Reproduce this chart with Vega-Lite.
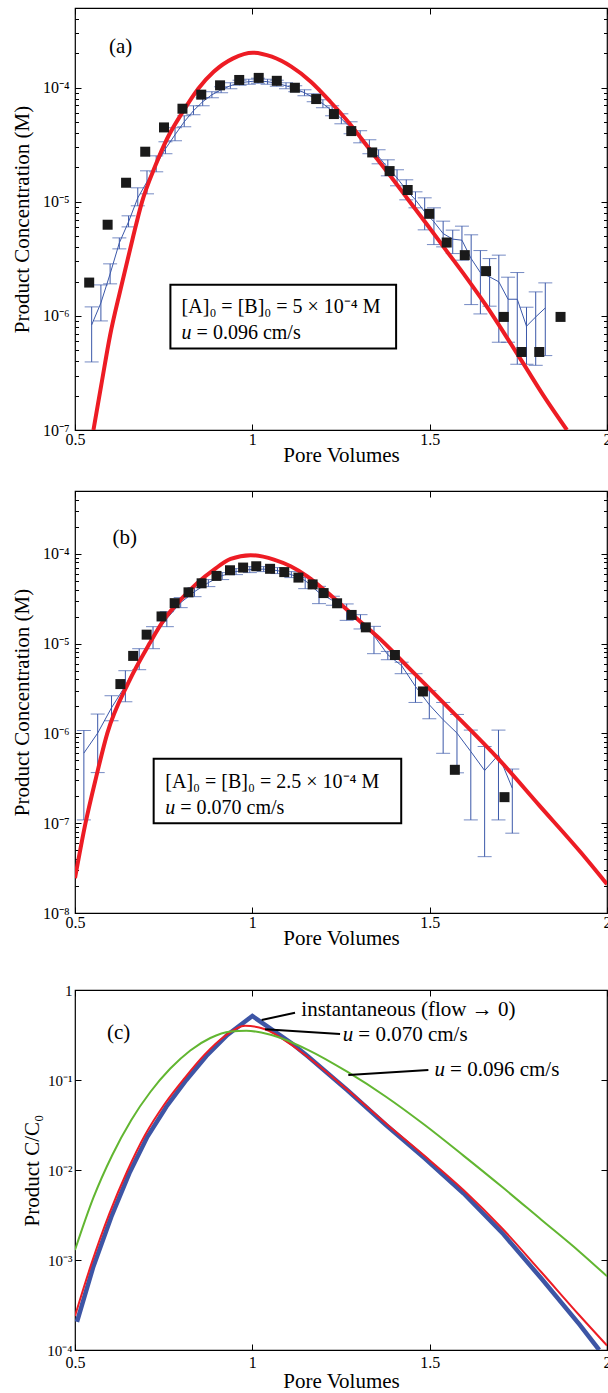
{
  "$schema": "https://vega.github.io/schema/vega-lite/v6.json",
  "padding": {"left": 10, "top": 6, "right": 0, "bottom": 0},
  "config": {
    "font": "Liberation Serif",
    "view": {"stroke": "#000", "strokeWidth": 1.2},
    "axis": {"grid": false, "domain": false, "tickColor": "#000", "labelColor": "#000", "titleColor": "#000", "labelFont": "Liberation Serif", "titleFont": "Liberation Serif", "titleFontWeight": "normal", "labelFontSize": 16, "titleFontSize": 21, "tickWidth": 1, "labelFlush": false},
    "text": {"font": "Liberation Serif", "color": "#000"}
  },
  "datasets": {
    "a_model": [
      {"pv":0.552,"c":1.0e-7},{"pv":0.574,"c":2.47e-7},{"pv":0.599,"c":6.77e-7},{"pv":0.629,"c":1.74e-6},{"pv":0.662,"c":4.68e-6},{"pv":0.689,"c":1.0e-5},{"pv":0.727,"c":2.09e-5},{"pv":0.760,"c":3.59e-5},{"pv":0.804,"c":6.16e-5},{"pv":0.848,"c":9.86e-5},{"pv":0.891,"c":1.38e-4},{"pv":0.946,"c":1.81e-4},{"pv":1.001,"c":2.03e-4},{"pv":1.055,"c":1.87e-4},{"pv":1.110,"c":1.53e-4},{"pv":1.165,"c":1.13e-4},{"pv":1.220,"c":7.54e-5},{"pv":1.274,"c":4.86e-5},{"pv":1.329,"c":2.93e-5},{"pv":1.384,"c":1.77e-5},{"pv":1.438,"c":1.06e-5},{"pv":1.493,"c":6.3e-6},{"pv":1.548,"c":3.7e-6},{"pv":1.602,"c":2.2e-6},{"pv":1.657,"c":1.26e-6},{"pv":1.712,"c":6.9e-7},{"pv":1.767,"c":3.7e-7},{"pv":1.821,"c":2.0e-7},{"pv":1.887,"c":1.0e-7}
    ],
    "a_sim": [
      {"pv":0.547,"m":8.34e-7,"hi":1.20e-6,"lo":3.95e-7},
      {"pv":0.573,"m":1.30e-6,"hi":1.87e-6,"lo":9.04e-7},
      {"pv":0.599,"m":2.335e-6,"hi":2.86e-6,"lo":1.91e-6},
      {"pv":0.625,"m":4.37e-6,"hi":4.83e-6,"lo":3.87e-6},
      {"pv":0.651,"m":6.68e-6,"hi":7.54e-6,"lo":6.03e-6},
      {"pv":0.677,"m":1.084e-5,"hi":1.327e-5,"lo":9.23e-6},
      {"pv":0.703,"m":1.498e-5,"hi":1.87e-5,"lo":1.175e-5},
      {"pv":0.729,"m":2.112e-5,"hi":2.53e-5,"lo":1.833e-5},
      {"pv":0.755,"m":2.916e-5,"hi":3.36e-5,"lo":2.64e-5},
      {"pv":0.782,"m":3.87e-5,"hi":4.46e-5,"lo":3.43e-5},
      {"pv":0.808,"m":5.03e-5,"hi":5.68e-5,"lo":4.55e-5},
      {"pv":0.834,"m":6.29e-5,"hi":6.95e-5,"lo":5.80e-5},
      {"pv":0.860,"m":7.54e-5,"hi":8.17e-5,"lo":6.95e-5},
      {"pv":0.886,"m":8.68e-5,"hi":9.23e-5,"lo":8.17e-5},
      {"pv":0.912,"m":9.60e-5,"hi":1.020e-4,"lo":9.04e-5},
      {"pv":0.938,"m":1.041e-4,"hi":1.106e-4,"lo":9.80e-5},
      {"pv":0.964,"m":1.106e-4,"hi":1.164e-4,"lo":1.052e-4},
      {"pv":0.990,"m":1.129e-4,"hi":1.188e-4,"lo":1.073e-4},
      {"pv":1.016,"m":1.152e-4,"hi":1.212e-4,"lo":1.095e-4},
      {"pv":1.043,"m":1.129e-4,"hi":1.188e-4,"lo":1.073e-4},
      {"pv":1.069,"m":1.095e-4,"hi":1.164e-4,"lo":1.031e-4},
      {"pv":1.095,"m":1.041e-4,"hi":1.106e-4,"lo":9.80e-5},
      {"pv":1.121,"m":9.80e-5,"hi":1.041e-4,"lo":9.23e-5},
      {"pv":1.147,"m":9.04e-5,"hi":9.60e-5,"lo":8.51e-5},
      {"pv":1.173,"m":8.17e-5,"hi":8.86e-5,"lo":7.54e-5},
      {"pv":1.199,"m":7.24e-5,"hi":7.85e-5,"lo":6.68e-5},
      {"pv":1.225,"m":6.29e-5,"hi":6.95e-5,"lo":5.68e-5},
      {"pv":1.251,"m":5.35e-5,"hi":5.91e-5,"lo":4.83e-5},
      {"pv":1.277,"m":4.46e-5,"hi":5.03e-5,"lo":3.95e-5},
      {"pv":1.304,"m":3.72e-5,"hi":4.20e-5,"lo":3.29e-5},
      {"pv":1.330,"m":3.04e-5,"hi":3.50e-5,"lo":2.64e-5},
      {"pv":1.356,"m":2.48e-5,"hi":2.86e-5,"lo":2.154e-5},
      {"pv":1.382,"m":1.99e-5,"hi":2.335e-5,"lo":1.69e-5},
      {"pv":1.408,"m":1.62e-5,"hi":1.91e-5,"lo":1.382e-5},
      {"pv":1.434,"m":1.274e-5,"hi":1.56e-5,"lo":1.041e-5},
      {"pv":1.460,"m":1.041e-5,"hi":1.224e-5,"lo":8.86e-6},
      {"pv":1.486,"m":8.17e-6,"hi":1.084e-5,"lo":5.68e-6},
      {"pv":1.512,"m":6.68e-6,"hi":8.86e-6,"lo":4.22e-6},
      {"pv":1.538,"m":5.27e-6,"hi":6.77e-6,"lo":4.03e-6},
      {"pv":1.565,"m":4.71e-6,"hi":5.65e-6,"lo":3.52e-6},
      {"pv":1.591,"m":4.61e-6,"hi":6.12e-6,"lo":3.08e-6},
      {"pv":1.617,"m":3.18e-6,"hi":5.14e-6,"lo":1.257e-6},
      {"pv":1.643,"m":2.40e-6,"hi":3.74e-6,"lo":1.041e-6},
      {"pv":1.669,"m":2.20e-6,"hi":3.18e-6,"lo":1.217e-6},
      {"pv":1.695,"m":1.99e-6,"hi":3.41e-6,"lo":5.88e-7},
      {"pv":1.721,"m":1.40e-6,"hi":2.185e-6,"lo":5.88e-7},
      {"pv":1.747,"m":1.40e-6,"hi":2.40e-6,"lo":3.77e-7},
      {"pv":1.773,"m":8.12e-7,"hi":1.192e-6,"lo":3.77e-7},
      {"pv":1.799,"m":9.80e-7,"hi":1.624e-6,"lo":3.69e-7},
      {"pv":1.826,"m":1.175e-6,"hi":1.948e-6,"lo":4.49e-7}
    ],
    "a_obs": [
      {"pv":0.540,"c":1.96e-6},{"pv":0.592,"c":6.3e-6},{"pv":0.644,"c":1.47e-5},{"pv":0.698,"c":2.75e-5},{"pv":0.751,"c":4.49e-5},{"pv":0.803,"c":6.55e-5},{"pv":0.856,"c":8.7e-5},{"pv":0.909,"c":1.05e-4},{"pv":0.963,"c":1.17e-4},{"pv":1.018,"c":1.22e-4},{"pv":1.069,"c":1.15e-4},{"pv":1.120,"c":1.0e-4},{"pv":1.180,"c":7.96e-5},{"pv":1.230,"c":5.88e-5},{"pv":1.279,"c":4.17e-5},{"pv":1.338,"c":2.71e-5},{"pv":1.387,"c":1.86e-5},{"pv":1.438,"c":1.27e-5},{"pv":1.499,"c":7.85e-6},{"pv":1.548,"c":4.40e-6},{"pv":1.599,"c":3.41e-6},{"pv":1.659,"c":2.47e-6},{"pv":1.709,"c":9.8e-7},{"pv":1.759,"c":4.83e-7},{"pv":1.809,"c":4.83e-7},{"pv":1.869,"c":9.8e-7}
    ],
    "a_box": [{"pv":0.769,"pv2":1.4054,"c":1.88e-6,"c2":5.17e-7}],
    "a_tag": [{"pv":0.596,"c":2.29e-4,"t":"(a)"}],
    "a_note": [{"pv":0.8006,"c":1.2e-6,"t":"[A]₀ = [B]₀ = 5 × 10⁻⁴ M"}],
    "a_rest": [{"pv":0.8288,"c":7.1e-7,"t":"= 0.096 cm/s"}],
    "a_u": [{"pv":0.8288,"c":7.1e-7,"t":"u"}],
    "b_model": [
      {"pv":0.500,"c":2.44e-8},{"pv":0.5296,"c":1.0e-7},{"pv":0.560,"c":3.3e-7},{"pv":0.591,"c":1.0e-6},{"pv":0.650,"c":3.63e-6},{"pv":0.710,"c":1.0e-5},{"pv":0.751,"c":1.85e-5},{"pv":0.798,"c":3.08e-5},{"pv":0.845,"c":4.74e-5},{"pv":0.892,"c":6.67e-5},{"pv":0.939,"c":8.77e-5},{"pv":0.995,"c":9.65e-5},{"pv":1.061,"c":8.62e-5},{"pv":1.108,"c":7.26e-5},{"pv":1.155,"c":5.61e-5},{"pv":1.202,"c":3.99e-5},{"pv":1.240,"c":2.955e-5},{"pv":1.300,"c":1.82e-5},{"pv":1.362,"c":1.107e-5},{"pv":1.456,"c":4.68e-6},{"pv":1.577,"c":1.55e-6},{"pv":1.693,"c":5.25e-7},{"pv":1.809,"c":1.58e-7},{"pv":1.927,"c":4.68e-8},{"pv":2.000,"c":2.09e-8}
    ],
    "b_sim": [
      {"pv":0.525,"m":6.03e-7,"hi":1.077e-6,"lo":1.088e-7},
      {"pv":0.564,"m":1.008e-6,"hi":1.642e-6,"lo":3.66e-7},
      {"pv":0.603,"m":1.93e-6,"hi":2.626e-6,"lo":1.382e-6},
      {"pv":0.642,"m":3.39e-6,"hi":4.99e-6,"lo":2.25e-6},
      {"pv":0.681,"m":6.61e-6,"hi":8.77e-6,"lo":5.12e-6},
      {"pv":0.720,"m":1.164e-5,"hi":1.543e-5,"lo":8.77e-6},
      {"pv":0.759,"m":1.895e-5,"hi":2.268e-5,"lo":1.543e-5},
      {"pv":0.798,"m":2.858e-5,"hi":3.25e-5,"lo":2.513e-5},
      {"pv":0.837,"m":3.79e-5,"hi":4.20e-5,"lo":3.33e-5},
      {"pv":0.876,"m":4.77e-5,"hi":5.16e-5,"lo":4.31e-5},
      {"pv":0.915,"m":5.71e-5,"hi":6.17e-5,"lo":5.16e-5},
      {"pv":0.954,"m":6.33e-5,"hi":6.84e-5,"lo":5.86e-5},
      {"pv":0.993,"m":6.67e-5,"hi":7.20e-5,"lo":6.17e-5},
      {"pv":1.032,"m":6.75e-5,"hi":7.20e-5,"lo":6.33e-5},
      {"pv":1.071,"m":6.50e-5,"hi":7.02e-5,"lo":6.02e-5},
      {"pv":1.110,"m":5.86e-5,"hi":6.33e-5,"lo":5.43e-5},
      {"pv":1.149,"m":5.03e-5,"hi":5.43e-5,"lo":4.09e-5},
      {"pv":1.188,"m":3.69e-5,"hi":4.34e-5,"lo":2.784e-5},
      {"pv":1.227,"m":3.01e-5,"hi":3.36e-5,"lo":2.666e-5},
      {"pv":1.266,"m":2.327e-5,"hi":2.764e-5,"lo":1.814e-5},
      {"pv":1.305,"m":1.754e-5,"hi":2.1e-5,"lo":1.455e-5},
      {"pv":1.343,"m":1.225e-5,"hi":1.555e-5,"lo":7.72e-6},
      {"pv":1.382,"m":7.52e-6,"hi":8.18e-6,"lo":6.61e-6},
      {"pv":1.421,"m":5.67e-6,"hi":6.20e-6,"lo":4.62e-6},
      {"pv":1.460,"m":3.33e-6,"hi":4.62e-6,"lo":2.21e-6},
      {"pv":1.499,"m":2.084e-6,"hi":2.985e-6,"lo":1.455e-6},
      {"pv":1.538,"m":1.418e-6,"hi":2.21e-6,"lo":6.0e-7},
      {"pv":1.577,"m":1.008e-6,"hi":1.625e-6,"lo":3.64e-7},
      {"pv":1.616,"m":6.28e-7,"hi":1.088e-6,"lo":1.088e-7},
      {"pv":1.655,"m":3.86e-7,"hi":7.14e-7,"lo":4.24e-8},
      {"pv":1.694,"m":5.77e-7,"hi":1.088e-6,"lo":1.088e-7},
      {"pv":1.733,"m":2.456e-7,"hi":4.01e-7,"lo":7.74e-8}
    ],
    "b_obs": [
      {"pv":0.628,"c":3.54e-6},{"pv":0.664,"c":7.29e-6},{"pv":0.702,"c":1.257e-5},{"pv":0.744,"c":2.005e-5},{"pv":0.781,"c":2.82e-5},{"pv":0.820,"c":3.72e-5},{"pv":0.857,"c":4.69e-5},{"pv":0.899,"c":5.67e-5},{"pv":0.937,"c":6.55e-5},{"pv":0.974,"c":7.02e-5},{"pv":1.011,"c":7.26e-5},{"pv":1.050,"c":6.80e-5},{"pv":1.090,"c":6.25e-5},{"pv":1.130,"c":5.43e-5},{"pv":1.170,"c":4.56e-5},{"pv":1.201,"c":3.65e-5},{"pv":1.239,"c":2.81e-5},{"pv":1.280,"c":2.084e-5},{"pv":1.320,"c":1.516e-5},{"pv":1.402,"c":7.46e-6},{"pv":1.481,"c":2.93e-6},{"pv":1.571,"c":3.93e-7},{"pv":1.711,"c":1.95e-7}
    ],
    "b_box": [{"pv":0.7218,"pv2":1.4198,"c":5.21e-7,"c2":1.0e-7}],
    "b_tag": [{"pv":0.606,"c":1.504e-4,"t":"(b)"}],
    "b_note": [{"pv":0.7546,"c":2.91e-7,"t":"[A]₀ = [B]₀ = 2.5 × 10⁻⁴ M"}],
    "b_rest": [{"pv":0.7828,"c":1.49e-7,"t":"= 0.070 cm/s"}],
    "b_u": [{"pv":0.7828,"c":1.49e-7,"t":"u"}],
    "c_inst": [
      {"pv":0.5056,"r":2.06e-4},{"pv":0.5516,"r":8.43e-4},{"pv":0.6024,"r":3.03e-3},{"pv":0.6531,"r":9.19e-3},{"pv":0.7039,"r":2.34e-2},{"pv":0.7575,"r":5.05e-2},{"pv":0.8139,"r":0.1},{"pv":0.8703,"r":0.185},{"pv":0.9295,"r":0.316},{"pv":1.0,"r":0.514},{"pv":1.1108,"r":0.256},{"pv":1.158,"r":0.1816},{"pv":1.2673,"r":0.0774},{"pv":1.3768,"r":0.0316},{"pv":1.4862,"r":0.01349},{"pv":1.5953,"r":5.51e-3},{"pv":1.7047,"r":2.0e-3},{"pv":1.8139,"r":6.3e-4},{"pv":1.9233,"r":1.9e-4},{"pv":1.978,"r":1.0e-4}
    ],
    "c_u070": [
      {"pv":0.5,"r":2.39e-4},{"pv":0.546,"r":9.0e-4},{"pv":0.5967,"r":3.25e-3},{"pv":0.6475,"r":9.75e-3},{"pv":0.6983,"r":2.48e-2},{"pv":0.7518,"r":5.34e-2},{"pv":0.8082,"r":0.104},{"pv":0.8647,"r":0.19},{"pv":0.921,"r":0.304},{"pv":0.9794,"r":0.401},{"pv":1.0338,"r":0.369},{"pv":1.1108,"r":0.245},{"pv":1.158,"r":0.178},{"pv":1.2673,"r":0.0784},{"pv":1.3768,"r":0.0329},{"pv":1.4862,"r":0.0143},{"pv":1.5953,"r":6.0e-3},{"pv":1.7047,"r":2.24e-3},{"pv":1.8139,"r":7.4e-4},{"pv":1.9233,"r":2.4e-4},{"pv":2.0,"r":1.12e-4}
    ],
    "c_u096": [
      {"pv":0.5,"r":1.29e-3},{"pv":0.5516,"r":4.89e-3},{"pv":0.6052,"r":1.47e-2},{"pv":0.6588,"r":3.6e-2},{"pv":0.7124,"r":7.36e-2},{"pv":0.7687,"r":0.134},{"pv":0.8251,"r":0.213},{"pv":0.8816,"r":0.293},{"pv":0.938,"r":0.346},{"pv":0.9831,"r":0.353},{"pv":1.0488,"r":0.32},{"pv":1.158,"r":0.215},{"pv":1.2673,"r":0.1236},{"pv":1.3768,"r":0.0652},{"pv":1.4862,"r":0.0316},{"pv":1.5953,"r":0.01445},{"pv":1.7047,"r":6.46e-3},{"pv":1.8139,"r":2.82e-3},{"pv":1.9233,"r":1.23e-3},{"pv":2.0,"r":6.6e-4}
    ],
    "c_lead": [
      {"pv":1.0262,"r":0.464,"pv2":1.1204,"r2":0.559},
      {"pv":1.0358,"r":0.366,"pv2":1.2473,"r2":0.3245},
      {"pv":1.2707,"r":0.1136,"pv2":1.4963,"r2":0.129}
    ],
    "c_tag": [{"pv":0.59,"r":0.33,"t":"(c)"},{"pv":1.1382,"r":0.5995,"t":"instantaneous (flow → 0)"}],
    "c_rest": [{"pv":1.2848,"r":0.316,"t":"= 0.070 cm/s"},{"pv":1.5434,"r":0.129,"t":"= 0.096 cm/s"}],
    "c_u": [{"pv":1.2848,"r":0.316,"t":"u"},{"pv":1.5434,"r":0.129,"t":"u"}]
  },
  "vconcat": [
    {
      "spacing": 23,
      "vconcat": [
        {
          "width": 532, "height": 422,
          "resolve": {"axis": {"x": "independent", "y": "independent"}},
          "layer": [
            {"data": {"name": "a_sim"}, "mark": {"type": "rule", "color": "#3b58a9", "strokeWidth": 1, "clip": true},
             "encoding": {
               "x": {"field": "pv", "type": "quantitative", "scale": {"domain": [0.5, 2], "nice": false, "zero": false},
                     "axis": {"orient": "top", "values": [0.5, 1, 1.5, 2], "labels": false, "tickSize": -6, "title": null}},
               "y": {"field": "lo", "type": "quantitative", "scale": {"type": "log", "domain": [1e-7, 5e-4], "nice": false},
                     "axis": {"orient": "left", "values": [2e-7,3e-7,4e-7,5e-7,6e-7,7e-7,8e-7,9e-7,2e-6,3e-6,4e-6,5e-6,6e-6,7e-6,8e-6,9e-6,2e-5,3e-5,4e-5,5e-5,6e-5,7e-5,8e-5,9e-5,2e-4,3e-4,4e-4], "labels": false, "tickSize": -3.5, "title": null}},
               "y2": {"field": "hi"}}},
            {"data": {"name": "a_sim"}, "mark": {"type": "tick", "orient": "horizontal", "size": 14, "thickness": 1, "color": "#3b58a9", "clip": true},
             "encoding": {
               "x": {"field": "pv", "type": "quantitative", "axis": null},
               "y": {"field": "hi", "type": "quantitative", "axis": {"orient": "right", "values": [1e-7, 1e-6, 1e-5, 1e-4], "labels": false, "tickSize": -6, "title": null}}}},
            {"data": {"name": "a_sim"}, "mark": {"type": "tick", "orient": "horizontal", "size": 14, "thickness": 1, "color": "#3b58a9", "clip": true},
             "encoding": {
               "x": {"field": "pv", "type": "quantitative", "axis": null},
               "y": {"field": "lo", "type": "quantitative", "axis": {"orient": "right", "values": [2e-7,3e-7,4e-7,5e-7,6e-7,7e-7,8e-7,9e-7,2e-6,3e-6,4e-6,5e-6,6e-6,7e-6,8e-6,9e-6,2e-5,3e-5,4e-5,5e-5,6e-5,7e-5,8e-5,9e-5,2e-4,3e-4,4e-4], "labels": false, "tickSize": -3.5, "title": null}}}},
            {"data": {"name": "a_sim"}, "mark": {"type": "line", "color": "#3b58a9", "strokeWidth": 1, "clip": true},
             "encoding": {
               "x": {"field": "pv", "type": "quantitative", "axis": null},
               "y": {"field": "m", "type": "quantitative", "axis": null}}},
            {"data": {"name": "a_model"}, "mark": {"type": "line", "color": "#ed1c24", "strokeWidth": 4, "interpolate": "monotone", "clip": true},
             "encoding": {
               "x": {"field": "pv", "type": "quantitative", "axis": {"orient": "bottom", "values": [0.5, 1, 1.5, 2], "format": "~g", "tickSize": -6, "labelPadding": 7, "title": "Pore Volumes", "titlePadding": -3}},
               "y": {"field": "c", "type": "quantitative", "axis": {"orient": "left", "values": [1e-7, 1e-6, 1e-5, 1e-4], "labelExpr": "['10⁻⁸','10⁻⁷','10⁻⁶','10⁻⁵','10⁻⁴','10⁻³'][round(log(datum.value)/LN10)+8]", "tickSize": -6, "labelPadding": 12, "title": "Product Concentration (M)", "titlePadding": 10}}}},
            {"data": {"name": "a_obs"}, "mark": {"type": "square", "size": 100, "color": "#1a1a1a", "opacity": 1},
             "encoding": {
               "x": {"field": "pv", "type": "quantitative", "axis": null},
               "y": {"field": "c", "type": "quantitative", "axis": null}}},
            {"data": {"name": "a_box"}, "mark": {"type": "rect", "fill": "#fff", "stroke": "#000", "strokeWidth": 2},
             "encoding": {
               "x": {"field": "pv", "type": "quantitative", "axis": null}, "x2": {"field": "pv2"},
               "y": {"field": "c", "type": "quantitative", "axis": null}, "y2": {"field": "c2"}}},
            {"data": {"name": "a_tag"}, "mark": {"type": "text", "align": "left", "baseline": "middle", "fontSize": 21},
             "encoding": {
               "x": {"field": "pv", "type": "quantitative", "axis": null},
               "y": {"field": "c", "type": "quantitative", "axis": null},
               "text": {"field": "t"}}},
            {"data": {"name": "a_note"}, "mark": {"type": "text", "align": "left", "baseline": "middle", "fontSize": 20},
             "encoding": {
               "x": {"field": "pv", "type": "quantitative", "axis": null},
               "y": {"field": "c", "type": "quantitative", "axis": null},
               "text": {"field": "t"}}},
            {"data": {"name": "a_rest"}, "mark": {"type": "text", "align": "left", "baseline": "middle", "fontSize": 20, "dx": 5},
             "encoding": {
               "x": {"field": "pv", "type": "quantitative", "axis": null},
               "y": {"field": "c", "type": "quantitative", "axis": null},
               "text": {"field": "t"}}},
            {"data": {"name": "a_u"}, "mark": {"type": "text", "align": "right", "baseline": "middle", "fontSize": 20, "fontStyle": "italic"},
             "encoding": {
               "x": {"field": "pv", "type": "quantitative", "axis": null},
               "y": {"field": "c", "type": "quantitative", "axis": null},
               "text": {"field": "t"}}}
          ]
        },
        {
          "width": 532, "height": 422,
          "resolve": {"axis": {"x": "independent", "y": "independent"}},
          "layer": [
            {"data": {"name": "b_sim"}, "mark": {"type": "rule", "color": "#3b58a9", "strokeWidth": 1, "clip": true},
             "encoding": {
               "x": {"field": "pv", "type": "quantitative", "scale": {"domain": [0.5, 2], "nice": false, "zero": false},
                     "axis": {"orient": "top", "values": [0.5, 1, 1.5, 2], "labels": false, "tickSize": -6, "title": null}},
               "y": {"field": "lo", "type": "quantitative", "scale": {"type": "log", "domain": [1e-8, 5e-4], "nice": false},
                     "axis": {"orient": "left", "values": [2e-8,3e-8,4e-8,5e-8,6e-8,7e-8,8e-8,9e-8,2e-7,3e-7,4e-7,5e-7,6e-7,7e-7,8e-7,9e-7,2e-6,3e-6,4e-6,5e-6,6e-6,7e-6,8e-6,9e-6,2e-5,3e-5,4e-5,5e-5,6e-5,7e-5,8e-5,9e-5,2e-4,3e-4,4e-4], "labels": false, "tickSize": -3.5, "title": null}},
               "y2": {"field": "hi"}}},
            {"data": {"name": "b_sim"}, "mark": {"type": "tick", "orient": "horizontal", "size": 14, "thickness": 1, "color": "#3b58a9", "clip": true},
             "encoding": {
               "x": {"field": "pv", "type": "quantitative", "axis": null},
               "y": {"field": "hi", "type": "quantitative", "axis": {"orient": "right", "values": [1e-8, 1e-7, 1e-6, 1e-5, 1e-4], "labels": false, "tickSize": -6, "title": null}}}},
            {"data": {"name": "b_sim"}, "mark": {"type": "tick", "orient": "horizontal", "size": 14, "thickness": 1, "color": "#3b58a9", "clip": true},
             "encoding": {
               "x": {"field": "pv", "type": "quantitative", "axis": null},
               "y": {"field": "lo", "type": "quantitative", "axis": {"orient": "right", "values": [2e-8,3e-8,4e-8,5e-8,6e-8,7e-8,8e-8,9e-8,2e-7,3e-7,4e-7,5e-7,6e-7,7e-7,8e-7,9e-7,2e-6,3e-6,4e-6,5e-6,6e-6,7e-6,8e-6,9e-6,2e-5,3e-5,4e-5,5e-5,6e-5,7e-5,8e-5,9e-5,2e-4,3e-4,4e-4], "labels": false, "tickSize": -3.5, "title": null}}}},
            {"data": {"name": "b_sim"}, "mark": {"type": "line", "color": "#3b58a9", "strokeWidth": 1, "clip": true},
             "encoding": {
               "x": {"field": "pv", "type": "quantitative", "axis": null},
               "y": {"field": "m", "type": "quantitative", "axis": null}}},
            {"data": {"name": "b_model"}, "mark": {"type": "line", "color": "#ed1c24", "strokeWidth": 4, "interpolate": "monotone", "clip": true},
             "encoding": {
               "x": {"field": "pv", "type": "quantitative", "axis": {"orient": "bottom", "values": [0.5, 1, 1.5, 2], "format": "~g", "tickSize": -6, "labelPadding": 7, "title": "Pore Volumes", "titlePadding": -3}},
               "y": {"field": "c", "type": "quantitative", "axis": {"orient": "left", "values": [1e-8, 1e-7, 1e-6, 1e-5, 1e-4], "labelExpr": "['10⁻⁸','10⁻⁷','10⁻⁶','10⁻⁵','10⁻⁴','10⁻³'][round(log(datum.value)/LN10)+8]", "tickSize": -6, "labelPadding": 12, "title": "Product Concentration (M)", "titlePadding": 10}}}},
            {"data": {"name": "b_obs"}, "mark": {"type": "square", "size": 100, "color": "#1a1a1a", "opacity": 1},
             "encoding": {
               "x": {"field": "pv", "type": "quantitative", "axis": null},
               "y": {"field": "c", "type": "quantitative", "axis": null}}},
            {"data": {"name": "b_box"}, "mark": {"type": "rect", "fill": "#fff", "stroke": "#000", "strokeWidth": 2},
             "encoding": {
               "x": {"field": "pv", "type": "quantitative", "axis": null}, "x2": {"field": "pv2"},
               "y": {"field": "c", "type": "quantitative", "axis": null}, "y2": {"field": "c2"}}},
            {"data": {"name": "b_tag"}, "mark": {"type": "text", "align": "left", "baseline": "middle", "fontSize": 21},
             "encoding": {
               "x": {"field": "pv", "type": "quantitative", "axis": null},
               "y": {"field": "c", "type": "quantitative", "axis": null},
               "text": {"field": "t"}}},
            {"data": {"name": "b_note"}, "mark": {"type": "text", "align": "left", "baseline": "middle", "fontSize": 20},
             "encoding": {
               "x": {"field": "pv", "type": "quantitative", "axis": null},
               "y": {"field": "c", "type": "quantitative", "axis": null},
               "text": {"field": "t"}}},
            {"data": {"name": "b_rest"}, "mark": {"type": "text", "align": "left", "baseline": "middle", "fontSize": 20, "dx": 5},
             "encoding": {
               "x": {"field": "pv", "type": "quantitative", "axis": null},
               "y": {"field": "c", "type": "quantitative", "axis": null},
               "text": {"field": "t"}}},
            {"data": {"name": "b_u"}, "mark": {"type": "text", "align": "right", "baseline": "middle", "fontSize": 20, "fontStyle": "italic"},
             "encoding": {
               "x": {"field": "pv", "type": "quantitative", "axis": null},
               "y": {"field": "c", "type": "quantitative", "axis": null},
               "text": {"field": "t"}}}
          ]
        }
      ]
    },
    {
      "width": 532, "height": 360,
      "resolve": {"axis": {"x": "independent", "y": "independent"}},
      "layer": [
        {"data": {"name": "c_inst"}, "mark": {"type": "line", "color": "#3d55a5", "strokeWidth": 4.5, "clip": true},
         "encoding": {
           "x": {"field": "pv", "type": "quantitative", "scale": {"domain": [0.5, 2], "nice": false, "zero": false},
                 "axis": {"orient": "bottom", "values": [0.5, 1, 1.5, 2], "format": "~g", "tickSize": -6, "labelPadding": 10, "title": "Pore Volumes", "titlePadding": 0}},
           "y": {"field": "r", "type": "quantitative", "scale": {"type": "log", "domain": [1e-4, 1], "nice": false},
                 "axis": {"orient": "left", "values": [1e-4, 1e-3, 1e-2, 1e-1, 1], "labelExpr": "['10⁻⁴','10⁻³','10⁻²','10⁻¹','1'][round(log(datum.value)/LN10)+4]", "labelFontSize": 15, "tickSize": -6, "labelPadding": 9, "title": "Product C/C₀", "titlePadding": 4}}}},
        {"data": {"name": "c_u070"}, "mark": {"type": "line", "color": "#ed1c24", "strokeWidth": 2, "interpolate": "monotone", "clip": true},
         "encoding": {
           "x": {"field": "pv", "type": "quantitative", "axis": {"orient": "top", "values": [0.5, 1, 1.5, 2], "labels": false, "tickSize": -6, "title": null}},
           "y": {"field": "r", "type": "quantitative", "axis": {"orient": "right", "values": [1e-4, 1e-3, 1e-2, 1e-1, 1], "labels": false, "tickSize": -6, "title": null}}}},
        {"data": {"name": "c_u096"}, "mark": {"type": "line", "color": "#62b631", "strokeWidth": 2, "interpolate": "monotone", "clip": true},
         "encoding": {
           "x": {"field": "pv", "type": "quantitative", "axis": null},
           "y": {"field": "r", "type": "quantitative", "axis": null}}},
        {"data": {"name": "c_lead"}, "mark": {"type": "rule", "color": "#000", "strokeWidth": 2},
         "encoding": {
           "x": {"field": "pv", "type": "quantitative", "axis": null}, "x2": {"field": "pv2"},
           "y": {"field": "r", "type": "quantitative", "axis": null}, "y2": {"field": "r2"}}},
        {"data": {"name": "c_tag"}, "mark": {"type": "text", "align": "left", "baseline": "middle", "fontSize": 21},
         "encoding": {
           "x": {"field": "pv", "type": "quantitative", "axis": null},
           "y": {"field": "r", "type": "quantitative", "axis": null},
           "text": {"field": "t"}}},
        {"data": {"name": "c_rest"}, "mark": {"type": "text", "align": "left", "baseline": "middle", "fontSize": 21, "dx": 5},
         "encoding": {
           "x": {"field": "pv", "type": "quantitative", "axis": null},
           "y": {"field": "r", "type": "quantitative", "axis": null},
           "text": {"field": "t"}}},
        {"data": {"name": "c_u"}, "mark": {"type": "text", "align": "right", "baseline": "middle", "fontSize": 21, "fontStyle": "italic"},
         "encoding": {
           "x": {"field": "pv", "type": "quantitative", "axis": null},
           "y": {"field": "r", "type": "quantitative", "axis": null},
           "text": {"field": "t"}}}
      ]
    }
  ],
  "spacing": 33
}
